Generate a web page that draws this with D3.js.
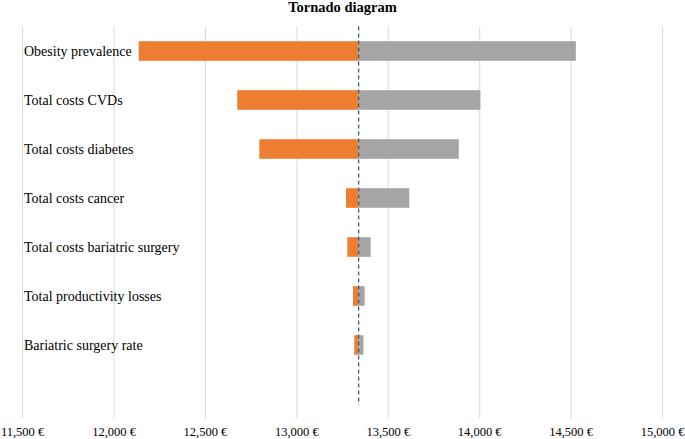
<!DOCTYPE html>
<html>
<head>
<meta charset="utf-8">
<script src="https://cdn.jsdelivr.net/npm/d3@7"></script>
<style>
  html, body { margin: 0; padding: 0; background: #fff; }
  svg { display: block; }
  svg text { font-family: "Liberation Serif", "Times New Roman", Times, "DejaVu Serif", serif; }
</style>
</head>
<body>
<svg id="chart" width="685" height="439"></svg>
<script>
const categories = [
  "Obesity prevalence",
  "Total costs CVDs",
  "Total costs diabetes",
  "Total costs cancer",
  "Total costs bariatric surgery",
  "Total productivity losses",
  "Bariatric surgery rate"
];
const baseValue = 13338;
const lowValues  = [12135, 12674, 12795, 13269, 13276, 13307, 13314];
const highValues = [14526, 14004, 13886, 13615, 13404, 13371, 13364];
const tickValues = [11500, 12000, 12500, 13000, 13500, 14000, 14500, 15000];
const tickLabels = ["11,500 €", "12,000 €", "12,500 €", "13,000 €", "13,500 €", "14,000 €", "14,500 €", "15,000 €"];

const svg = d3.select("#chart");
const x = d3.scaleLinear().domain([11500, 15000]).range([22.6, 662.5]);
const plotTop = 26.5, plotBottom = 418.5;
const y = d3.scaleBand()
  .domain(categories.concat([""]))
  .range([plotTop, plotBottom])
  .paddingInner(0.6).paddingOuter(0.3);

// gridlines
svg.append("g").selectAll("line").data(tickValues).join("line")
  .attr("x1", d => x(d)).attr("x2", d => x(d))
  .attr("y1", plotTop).attr("y2", plotBottom)
  .attr("stroke", "#d9d9d9").attr("stroke-width", 1);

// tick labels
svg.append("g").selectAll("text").data(tickValues).join("text")
  .attr("x", d => x(d)).attr("y", 436)
  .attr("text-anchor", "middle")
  .style("font-size", "12.5px").attr("fill", "#000")
  .text((d, i) => tickLabels[i]);

// low bars (orange)
svg.append("g").selectAll("rect").data(categories).join("rect")
  .attr("x", (d, i) => x(lowValues[i]))
  .attr("y", d => y(d))
  .attr("width", (d, i) => x(baseValue) - x(lowValues[i]))
  .attr("height", y.bandwidth())
  .attr("fill", "#ed7d31");

// high bars (gray)
svg.append("g").selectAll("rect").data(categories).join("rect")
  .attr("x", x(baseValue))
  .attr("y", d => y(d))
  .attr("width", (d, i) => x(highValues[i]) - x(baseValue))
  .attr("height", y.bandwidth())
  .attr("fill", "#a5a5a5");

// base dashed line
svg.append("line")
  .attr("x1", x(baseValue)).attr("x2", x(baseValue))
  .attr("y1", plotTop).attr("y2", 405)
  .attr("stroke", "#3f5a85").attr("stroke-width", 1.3)
  .attr("stroke-dasharray", "4,3");

// category labels
svg.append("g").selectAll("text").data(categories).join("text")
  .attr("x", 24)
  .attr("y", d => y(d) + y.bandwidth() / 2)
  .attr("dy", "0.35em")
  .style("font-size", "14px").attr("fill", "#000")
  .text(d => d);

// title
svg.append("text")
  .attr("x", 342.5).attr("y", 12)
  .attr("text-anchor", "middle")
  .style("font-size", "14.5px").style("font-weight", "bold")
  .attr("fill", "#000")
  .text("Tornado diagram");
</script>
</body>
</html>
